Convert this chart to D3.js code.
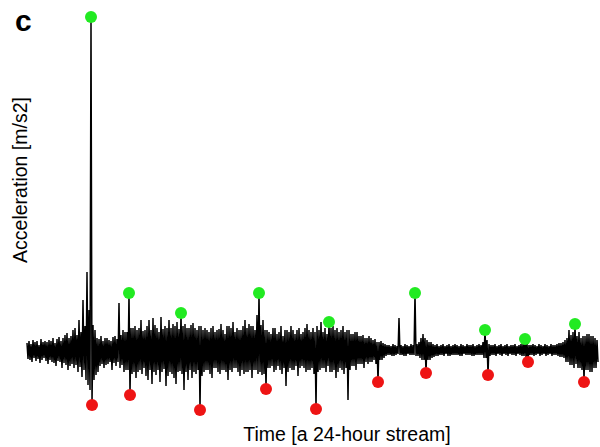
<!DOCTYPE html>
<html>
<head>
<meta charset="utf-8">
<script src="https://cdn.jsdelivr.net/npm/d3@7"></script>
<style>
  html, body { margin: 0; padding: 0; background: #fff; }
  svg { display: block; }
  text { font-family: "Liberation Sans", Arial, Helvetica, sans-serif; fill: #000; }
</style>
</head>
<body>
<svg id="chart" width="600" height="447"></svg>
<script>
// ---- data ----
const streamHours = 24;
// per-interval upper extreme of the acceleration (relative units)
const signalHigh = [
  7,9,6,10,8,9,5,11,8,9,
  8,10,9,12,7,11,13,9,12,15,
  17,12,14,20,22,15,30,18,50,24,
  78,40,333,25,20,12,11,14,9,12,
  12,10,9,13,14,11,47,15,20,18,
  18,57,22,22,24,20,22,30,19,20,
  24,30,20,32,25,22,18,33,21,24,
  22,30,22,26,24,28,21,37,24,26,
  22,22,25,27,22,20,24,24,20,22,
  20,18,22,24,18,20,21,26,20,16,
  24,24,22,28,18,22,20,20,24,30,
  22,26,24,24,20,35,57,25,30,20,
  20,18,16,22,22,16,18,24,14,20,
  20,18,24,20,16,20,22,16,18,22,
  26,20,18,22,18,24,20,28,18,22,
  16,28,22,24,20,22,18,20,24,18,
  20,20,16,16,18,18,14,14,15,12,
  12,14,12,10,11,8,8,9,7,6,
  5,5,4,6,5,4,32,5,4,6,
  5,4,6,5,57,6,8,12,16,12,
  10,8,8,6,5,6,4,5,6,4,
  5,6,4,5,6,5,4,6,5,4,
  6,5,5,6,4,5,6,5,8,20,
  10,6,5,5,6,4,5,6,4,5,
  6,4,5,5,6,4,5,6,6,11,
  7,5,5,6,5,4,6,5,4,6,
  5,4,6,5,5,6,7,7,8,10,
  12,20,15,18,26,14,18,12,14,14,
  16,16,14,14,12,10
];
// per-interval lower extreme of the acceleration (relative units)
const signalLow = [
  -9,-10,-12,-8,-11,-9,-13,-10,-8,-11,
  -14,-10,-12,-13,-16,-11,-12,-18,-13,-15,
  -20,-16,-14,-18,-15,-22,-17,-27,-20,-30,
  -35,-40,-55,-30,-25,-22,-16,-14,-18,-15,
  -14,-12,-20,-13,-16,-12,-18,-15,-22,-20,
  -20,-45,-24,-22,-28,-22,-20,-24,-18,-26,
  -30,-20,-34,-22,-25,-20,-32,-22,-19,-36,
  -26,-22,-24,-28,-34,-22,-21,-24,-40,-22,
  -30,-20,-28,-22,-24,-20,-60,-26,-22,-20,
  -20,-24,-28,-18,-18,-22,-24,-20,-20,-22,
  -30,-20,-22,-18,-18,-22,-26,-20,-24,-22,
  -22,-20,-28,-20,-20,-24,-22,-25,-24,-39,
  -18,-18,-16,-22,-20,-16,-20,-24,-18,-36,
  -22,-18,-20,-20,-16,-26,-18,-16,-18,-22,
  -20,-20,-18,-24,-59,-22,-20,-18,-18,-22,
  -16,-22,-22,-20,-28,-22,-18,-20,-24,-18,
  -50,-20,-16,-16,-20,-14,-14,-14,-18,-12,
  -14,-12,-12,-10,-14,-32,-10,-10,-8,-6,
  -5,-5,-6,-6,-5,-4,-5,-5,-6,-6,
  -4,-5,-5,-5,-6,-6,-8,-10,-10,-23,
  -10,-10,-8,-7,-6,-6,-5,-5,-6,-4,
  -6,-6,-5,-5,-5,-5,-6,-6,-4,-5,
  -5,-5,-6,-6,-5,-5,-5,-5,-8,-8,
  -25,-6,-5,-5,-6,-4,-5,-6,-4,-5,
  -6,-4,-5,-5,-6,-4,-5,-6,-6,-7,
  -12,-5,-5,-6,-5,-4,-6,-5,-4,-6,
  -5,-4,-6,-5,-5,-6,-7,-7,-8,-12,
  -12,-15,-15,-18,-14,-18,-18,-20,-32,-20,
  -20,-22,-22,-18,-18,-12
];
// detected peaks (green) and troughs (red): time [h], value
const peakTimes    = [2.6947, 4.2947, 6.4842, 9.7684, 12.7158, 16.3368, 19.2842, 20.9684, 23.0737];
const peakValues   = [333, 57, 37, 57, 28, 57, 20, 11, 26];
const troughTimes  = [2.7368, 4.3368, 7.2842, 10.0632, 12.1684, 14.7789, 16.8, 19.4105, 21.0947, 23.4526];
const troughValues = [-55, -45, -60, -39, -59, -32, -23, -25, -12, -32];

const title = "c";
const xLabel = "Time [a 24-hour stream]";
const yLabel = "Acceleration [m/s2]";

// ---- drawing ----
const svg = d3.select("#chart");
const x = d3.scaleLinear().domain([0, streamHours]).range([27, 597]);
const y = d3.scaleLinear().domain([-60, 333]).range([410, 17]);

const step = streamHours / (signalHigh.length - 1);
// waveform: each interval visits its high, then its low
const pts = [];
signalHigh.forEach((h, i) => {
  pts.push([i * step, h]);
  pts.push([(i + 0.5) * step, signalLow[i]]);
});
const line = d3.line()
  .x(d => x(d[0]))
  .y(d => y(d[1]));

svg.append("path")
  .datum(pts)
  .attr("d", line)
  .attr("fill", "none")
  .attr("stroke", "#000")
  .attr("stroke-width", 1.5)
  .attr("stroke-linejoin", "bevel");

svg.append("g").selectAll("circle")
  .data(peakTimes.map((t, i) => ({t, v: peakValues[i]})))
  .join("circle")
  .attr("cx", d => x(d.t))
  .attr("cy", d => y(d.v))
  .attr("r", 6)
  .attr("fill", "#22ea22");

svg.append("g").selectAll("circle")
  .data(troughTimes.map((t, i) => ({t, v: troughValues[i]})))
  .join("circle")
  .attr("cx", d => x(d.t))
  .attr("cy", d => y(d.v))
  .attr("r", 6)
  .attr("fill", "#ee1414");

svg.append("text")
  .attr("x", 15).attr("y", 31)
  .attr("font-size", 30).attr("font-weight", "bold")
  .text(title);

svg.append("text")
  .attr("x", 347).attr("y", 441)
  .attr("text-anchor", "middle")
  .attr("font-size", 19.5)
  .text(xLabel);

svg.append("text")
  .attr("transform", "translate(27,180) rotate(-90)")
  .attr("text-anchor", "middle")
  .attr("font-size", 19.5)
  .text(yLabel);
</script>
</body>
</html>
